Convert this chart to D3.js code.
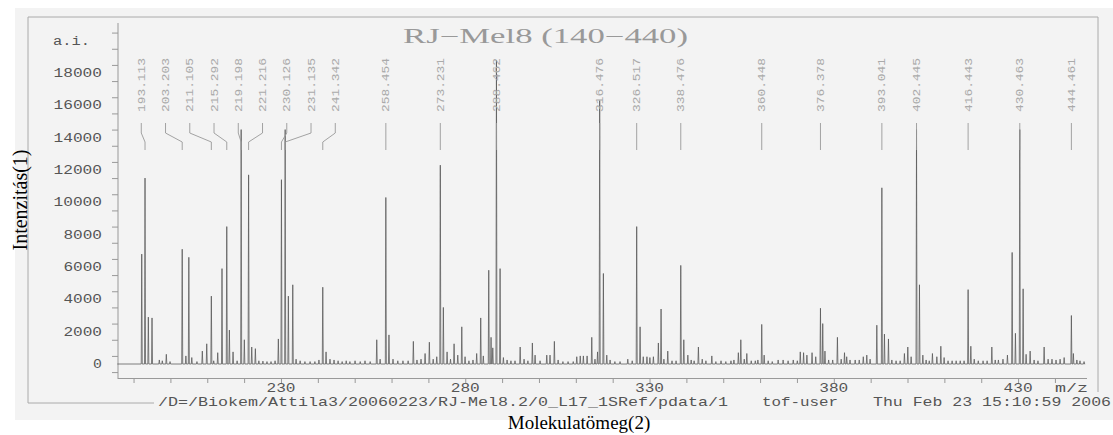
<!DOCTYPE html>
<html><head><meta charset="utf-8">
<script src="https://cdn.jsdelivr.net/npm/d3@7"></script>
<style>body{margin:0;background:#fff}svg{display:block}</style>
</head><body><svg id="c" width="1113" height="435"></svg>
<script>
// ---- data ----
const peakMz = [192.22,193.113,194.01,195.01,196.99,197.8,198.89,199.9,203.203,204.2,205.0,205.8,207.2,208.66,209.86,211.105,211.75,212.84,214.0,215.292,216.0,217.0,218.1,219.198,220.06,221.216,222.07,223.05,224.0,225.1,226.2,227.3,228.4,229.29,230.126,231.135,232.0,233.2,234.1,235.2,236.5,237.9,239.2,240.3,241.342,242.23,243.3,244.4,245.5,246.6,247.7,248.7,250.1,251.5,252.8,254.2,255.99,256.9,258.454,259.3,260.4,261.7,263.1,264.5,265.92,266.9,268.0,269.1,270.26,271.3,272.27,273.231,274.06,275.07,276.0,276.97,277.97,279.06,279.95,281.0,282.1,283.1,284.2,284.9,286.38,287.0,287.47,288.462,289.45,290.35,291.35,292.4,293.5,294.9,295.96,297.0,298.21,298.95,300.3,302.12,303.0,304.18,305.2,306.5,307.9,309.3,310.26,311.2,312.05,313.06,314.33,315.2,315.9,316.476,317.48,318.4,319.3,320.6,322.0,324.1,325.3,326.517,327.44,328.3,329.3,330.1,331.05,332.4,333.13,333.9,334.95,336.1,337.2,338.476,339.3,340.4,341.3,342.1,343.26,344.3,345.3,346.9,348.0,349.4,350.7,352.1,352.9,354.1,354.77,355.7,356.4,357.6,358.7,359.4,360.448,361.1,362.2,363.3,364.9,366.25,367.6,369.0,370.1,370.9,371.8,372.7,374.1,375.1,376.378,377.0,377.6,378.6,379.7,380.98,382.0,382.9,383.5,384.4,385.8,386.9,388.0,388.95,389.85,391.67,393.041,393.74,394.83,395.75,396.9,398.0,399.16,400.08,400.98,402.445,403.24,404.16,405.05,405.9,406.76,407.96,409.04,409.93,411.0,412.1,413.2,414.3,415.35,416.443,417.18,418.1,419.2,420.5,421.6,422.88,423.8,424.66,425.9,427.11,428.39,429.28,430.463,431.37,432.18,433.27,434.35,435.4,437.07,438.15,439.2,440.3,441.4,442.5,444.461,445.0,445.95,446.8,447.9];
const peakIntensity = [6800,11500,2900,2850,250,200,600,150,7100,500,6600,400,150,800,1250,4200,200,700,5900,8500,2100,750,200,14500,1500,11700,1050,950,200,180,150,150,200,1550,11400,14500,4200,4900,300,200,150,150,150,250,4750,750,300,250,200,150,200,150,200,150,200,150,1500,300,10300,1800,300,200,200,200,1400,250,300,650,1350,300,450,12300,3500,750,300,1250,550,2300,450,200,250,650,2850,500,5800,1650,1000,18800,5900,400,250,200,200,1050,300,200,1300,550,200,550,550,1400,250,150,150,150,450,500,500,500,1650,300,750,16300,5600,550,250,150,150,300,200,8500,2300,450,450,400,450,1300,3400,300,800,200,200,6100,1500,550,250,200,1050,300,200,500,150,200,150,200,250,700,1500,300,650,200,200,250,2450,550,200,150,250,250,200,250,200,750,700,550,700,450,3450,2500,800,250,250,1650,300,700,450,250,250,250,450,550,300,2400,10900,1850,1550,250,200,200,650,1050,450,14500,4900,550,250,200,650,450,1100,400,200,200,200,200,200,4600,1100,300,200,200,200,1050,250,250,300,550,6900,1900,14500,4650,600,800,250,200,1050,300,300,250,300,400,3000,650,250,200,150];
const labelMz = ["193.113","203.203","211.105","215.292","219.198","221.216","230.126","231.135","241.342","258.454","273.231","288.462","316.476","326.517","338.476","360.448","376.378","393.041","402.445","416.443","430.463","444.461"];
const yLabelValues = [0,2000,4000,6000,8000,10000,12000,14000,16000,18000];
const xLabelValues = [230,280,330,380,430];
const titleText = "RJ\u2212Mel8 (140\u2212440)";
const pathText = "/D=/Biokem/Attila3/20060223/RJ-Mel8.2/0_L17_1SRef/pdata/1";
const userText = "tof-user";
const dateText = "Thu Feb 23 15:10:59 2006";

// ---- layout ----
const svg = d3.select("#c");
const x = d3.scaleLinear().domain([185.78, 448.7]).range([118, 1087]);
const y = d3.scaleLinear().domain([0, 18000]).range([364, 73]);
const mono = "'Liberation Mono', monospace";
const ink = "#555";

svg.append("rect").attr("width",1113).attr("height",435).attr("fill","#fff");
svg.append("rect").attr("x",15).attr("y",8).attr("width",1098).attr("height",412).attr("fill","#f3f3f3");

// outer frame
const frame = svg.append("g").attr("stroke","#aaa").attr("fill","none");
frame.append("path").attr("d","M28,403 V17 H1098 V392");
frame.append("path").attr("d","M28,403 H154");

// y axis
const yAxis = d3.axisLeft(y).tickValues(d3.range(-500, 21500, 1000).filter(v=>v>=0||v===-500)).tickSize(6).tickSizeOuter(0).tickFormat("");
const gy = svg.append("g").attr("transform","translate(118,0)").call(yAxis);
gy.select(".domain").remove();
gy.selectAll("line").attr("stroke","#999");
svg.append("line").attr("x1",118).attr("x2",118).attr("y1",23).attr("y2",379).attr("stroke","#999");

function stretched(str, x0, yb, width, size, fill, anchor) {
  const t = svg.append("text").attr("x", anchor==="end" ? x0 - width : x0).attr("y", yb)
    .attr("font-family", mono).attr("font-size", size).attr("fill", fill)
    .attr("textLength", width).attr("lengthAdjust","spacingAndGlyphs").text(str);
  return t;
}
yLabelValues.forEach(v => {
  const s = String(v);
  stretched(s, 102, y(v)+4, s.length*9.9-1, 12, ink, "end");
});
stretched("a.i.", 53, y(20000)+4, 37, 12, ink);

// x axis
const xAxis = d3.axisBottom(x).tickValues(d3.range(190, 441, 10)).tickSize(5).tickSizeOuter(0).tickFormat("");
const gx = svg.append("g").attr("transform","translate(0,378)").call(xAxis);
gx.select(".domain").remove();
gx.selectAll("line").attr("stroke","#999");
svg.append("line").attr("x1",118).attr("x2",1087).attr("y1",378.5).attr("y2",378.5).attr("stroke","#999");
xLabelValues.forEach(v => {
  const s = String(v);
  stretched(s, x(v) - 14.5, 392, 29, 12, ink);
});
stretched("m/z", 1055, 392, 33, 12, ink);

// spectrum
const pts = [[185.6, 0]];
peakMz.forEach((m, i) => { pts.push([m-0.14, 0], [m, peakIntensity[i]], [m+0.14, 0]); });
pts.push([448.2, 0]);
pts.sort((a,b)=>a[0]-b[0]);
const line = d3.line().x(d=>x(d[0])).y(d=>y(d[1]));
svg.append("path").attr("d", line(pts)).attr("fill","none").attr("stroke","#555").attr("stroke-width",0.75);

// peak labels with spread-out positions
const gap = 24.25;
const desired = labelMz.map(s => x(+s));
let blocks = [];
desired.forEach(d => {
  blocks.push({xs:[d]});
  const calc = b => d3.mean(b.xs.map((v,i)=>v - i*gap));
  blocks[blocks.length-1].start = d;
  while (blocks.length > 1) {
    const b = blocks[blocks.length-1], a = blocks[blocks.length-2];
    if (a.start + a.xs.length*gap > b.start) {
      const m = {xs: a.xs.concat(b.xs)}; m.start = calc(m);
      blocks.splice(blocks.length-2, 2, m);
    } else break;
  }
});
const labelX = [];
blocks.forEach(b => b.xs.forEach((_, i) => labelX.push(b.start + i*gap)));
const lg = svg.append("g");
labelMz.forEach((s, i) => {
  const lx = labelX[i], px = desired[i];
  lg.append("path").attr("d", `M${lx},123 V133 L${px},142 V150`).attr("fill","none").attr("stroke","#999").attr("stroke-width",0.9);
  lg.append("text").attr("transform", `translate(${lx+3.5},112) rotate(-90)`)
    .attr("font-family", mono).attr("font-size", 11).attr("fill","#aaa")
    .attr("textLength", 54).attr("lengthAdjust","spacingAndGlyphs").text(s);
});

// title and footer
svg.append("text").attr("x",403).attr("y",43).attr("font-family","'Liberation Serif', serif").attr("font-size",20)
  .attr("fill","#999").attr("textLength",285).attr("lengthAdjust","spacingAndGlyphs").text(titleText);
stretched(pathText, 158, 406, 570, 13, ink);
stretched(userText, 762, 406, 76, 13, ink);
stretched(dateText, 873, 406, 238, 13, ink);

// axis titles
svg.append("text").attr("transform","translate(27,200) rotate(-90)").attr("text-anchor","middle")
  .attr("font-family","'Liberation Serif', serif").attr("font-size",20).attr("fill","#000").text("Intenzitás(1)");
svg.append("text").attr("x",579).attr("y",429).attr("text-anchor","middle")
  .attr("font-family","'Liberation Serif', serif").attr("font-size",19).attr("fill","#000").text("Molekulatömeg(2)");
</script></body></html>
